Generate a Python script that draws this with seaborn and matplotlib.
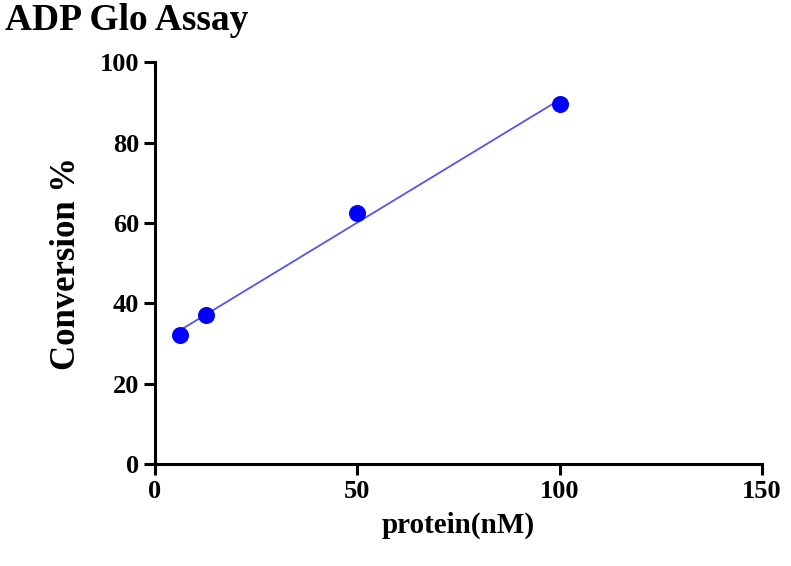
import matplotlib
matplotlib.use("Agg")
import matplotlib.pyplot as plt
import seaborn as sns
import pandas as pd

protein_nM = [6.25, 12.5, 50, 100]
conversion_pct = [32.1, 37.1, 62.6, 89.5]
x_ticks = [0, 50, 100, 150]
y_ticks = [0, 20, 40, 60, 80, 100]

df = pd.DataFrame({"protein": protein_nM, "conv": conversion_pct})
plt.rcParams["font.family"] = "Liberation Serif"
fig = plt.figure(figsize=(7.91, 5.66), dpi=100)
ax = fig.add_axes([0.196, 0.18, 0.767, 0.71])
sns.regplot(data=df, x="protein", y="conv", ci=None, ax=ax,
            scatter_kws=dict(color="#0000ff", s=150, alpha=1, zorder=3, clip_on=False, linewidths=0),
            line_kws=dict(color="#5555ee", lw=1.3))
ax.set_xlim(0, 150)
ax.set_ylim(0, 100)
ax.set_xticks(x_ticks)
ax.set_yticks(y_ticks)
for s in ["top", "right"]:
    ax.spines[s].set_visible(False)
for s in ["left", "bottom"]:
    ax.spines[s].set_linewidth(2.2)
ax.tick_params(width=2.2, length=8, labelsize=19)
for t in ax.get_xticklabels() + ax.get_yticklabels():
    t.set_fontweight("bold")
ax.set_xlabel("protein(nM)", fontsize=21, fontweight="bold", labelpad=6)
ax.set_ylabel("Conversion %", fontsize=25, fontweight="bold", labelpad=12)
fig.text(0.006, 0.995, "ADP Glo Assay", fontsize=27, fontweight="bold", va="top", ha="left")
fig.savefig("out.png", dpi=100)
